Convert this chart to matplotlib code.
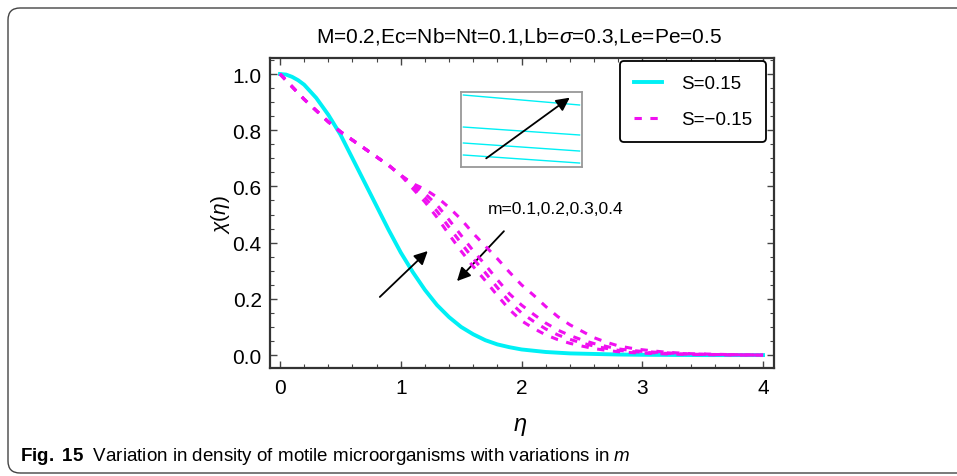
import matplotlib
matplotlib.use("Agg")
import matplotlib.pyplot as plt
import numpy as np
from matplotlib.patches import FancyBboxPatch
from matplotlib.transforms import IdentityTransform
from matplotlib.ticker import MultipleLocator

plt.rcParams["font.family"] = ["Liberation Sans", "DejaVu Sans"]
plt.rcParams["mathtext.fontset"] = "custom"
plt.rcParams["mathtext.rm"] = "Liberation Sans"
plt.rcParams["mathtext.it"] = "Liberation Sans:italic"
plt.rcParams["mathtext.bf"] = "Liberation Sans:bold"

# S = 0.15 (curves for all m overlap)
eta_pos = [0.0, 0.05, 0.1, 0.15, 0.2, 0.3, 0.4, 0.5, 0.6, 0.7, 0.8, 0.9, 1.0,
           1.1, 1.2, 1.3, 1.4, 1.5, 1.6, 1.7, 1.8, 1.9, 2.0, 2.2, 2.4, 2.6,
           2.8, 3.0, 3.5, 4.0]
chi_pos = [1.000, 0.998, 0.990, 0.978, 0.962, 0.915, 0.855, 0.785, 0.700,
           0.615, 0.530, 0.445, 0.365, 0.295, 0.232, 0.178, 0.135, 0.100,
           0.074, 0.053, 0.038, 0.028, 0.020, 0.011, 0.006, 0.004, 0.002,
           0.001, 0.000, 0.000]

# S = -0.15, m = 0.1 .. 0.4
eta_neg = [0.0, 0.1, 0.2, 0.3, 0.4, 0.5, 0.6, 0.7, 0.8, 0.9, 1.0, 1.1, 1.2, 1.3,
           1.4, 1.5, 1.6, 1.7, 1.8, 1.9, 2.0, 2.1, 2.2, 2.3, 2.4, 2.5, 2.6, 2.7,
           2.8, 2.9, 3.0, 3.2, 3.4, 3.6, 3.8, 4.0]
head = [1.000, 0.955, 0.910, 0.870, 0.830, 0.795, 0.765, 0.735, 0.705, 0.675, 0.640]
chi_neg_m1 = head + [0.610, 0.590, 0.562, 0.525, 0.483, 0.433, 0.388, 0.343,
                     0.295, 0.250, 0.213, 0.173, 0.137, 0.108, 0.085, 0.062,
                     0.046, 0.033, 0.025, 0.019, 0.010, 0.005, 0.003, 0.001, 0.000]
chi_neg_m2 = head + [0.608, 0.575, 0.534, 0.481, 0.426, 0.371, 0.321, 0.268,
                     0.218, 0.178, 0.145, 0.114, 0.089, 0.070, 0.054, 0.041,
                     0.031, 0.022, 0.017, 0.013, 0.008, 0.004, 0.002, 0.001, 0.000]
chi_neg_m3 = head + [0.600, 0.560, 0.512, 0.455, 0.398, 0.343, 0.293, 0.240,
                     0.190, 0.150, 0.120, 0.093, 0.072, 0.056, 0.043, 0.032,
                     0.024, 0.017, 0.013, 0.010, 0.006, 0.003, 0.002, 0.001, 0.000]
chi_neg_m4 = head + [0.592, 0.545, 0.490, 0.429, 0.370, 0.315, 0.265, 0.212,
                     0.162, 0.122, 0.095, 0.072, 0.055, 0.042, 0.032, 0.023,
                     0.017, 0.012, 0.009, 0.007, 0.004, 0.002, 0.001, 0.000, 0.000]

# zoomed inset: cyan curves, left / right end heights
inset_left = [0.96, 0.533, 0.32, 0.16]
inset_right = [0.827, 0.427, 0.213, 0.053]

CYAN = "#00F0F5"
MAGENTA = "#F010F0"

fig = plt.figure(figsize=(9.57, 4.77), dpi=100)
ax = fig.add_axes([0.2821, 0.2264, 0.5266, 0.6499])

ax.plot(eta_pos, chi_pos, color=CYAN, lw=2.8, label="S=0.15", zorder=3)
first = True
for ys in [chi_neg_m1, chi_neg_m2, chi_neg_m3, chi_neg_m4]:
    ax.plot(eta_neg, ys, color=MAGENTA, lw=2.2, dashes=(2.4, 2.8),
            label="S=\u22120.15" if first else None, zorder=4)
    first = False

ax.set_xlim(-0.083, 4.09)
ax.set_ylim(-0.046, 1.057)
ax.xaxis.set_major_locator(MultipleLocator(1))
ax.xaxis.set_minor_locator(MultipleLocator(0.2))
ax.yaxis.set_major_locator(MultipleLocator(0.2))
ax.yaxis.set_minor_locator(MultipleLocator(0.05))
ax.yaxis.set_major_formatter(matplotlib.ticker.FormatStrFormatter("%.1f"))
ax.tick_params(which="both", direction="in", top=True, right=True,
               color="#444444", labelsize=15)
ax.tick_params(which="major", length=5, width=1)
ax.tick_params(which="minor", length=3, width=0.8)
ax.tick_params(axis="x", pad=7)
ax.tick_params(axis="y", pad=6)
for sp in ax.spines.values():
    sp.set_linewidth(1.6)
    sp.set_color("#333333")

ax.set_xlabel("$\\eta$", fontsize=17)
ax.xaxis.set_label_coords(0.496, -0.15)
ax.set_ylabel("$\\chi(\\eta)$", fontsize=15)
ax.yaxis.set_label_coords(-0.075, 0.5)

fig.text(0.542, 0.9245, "M=0.2,Ec=Nb=Nt=0.1,Lb=$\\sigma$=0.3,Le=Pe=0.5",
         ha="center", va="center", fontsize=15)

leg = ax.legend(loc="upper right", bbox_to_anchor=(0.8004, 0.87),
                bbox_transform=fig.transFigure, fontsize=13.5, frameon=True,
                fancybox=True, handlelength=1.5, handletextpad=1.0,
                borderpad=0.75, labelspacing=1.0, borderaxespad=0)
leg.get_frame().set_edgecolor("black")
leg.get_frame().set_linewidth(1.3)
leg.get_frame().set_alpha(1)

# arrows and label for m
ax.annotate("", xy=(1.24, 0.377), xytext=(0.81, 0.20),
            arrowprops=dict(arrowstyle="-|>", color="black", lw=1.3,
                            mutation_scale=20))
ax.annotate("", xy=(1.45, 0.256), xytext=(1.87, 0.448),
            arrowprops=dict(arrowstyle="-|>", color="black", lw=1.3,
                            mutation_scale=20))
ax.text(2.28, 0.523, "m=0.1,0.2,0.3,0.4", ha="center", va="center",
        fontsize=12.5)

# inset
ax_in = fig.add_axes([0.4817, 0.6478, 0.1264, 0.1572])
for yl, yr in zip(inset_left, inset_right):
    ax_in.plot([0.02, 0.98], [yl, yr], color=CYAN, lw=1.0)
ax_in.set_xlim(0, 1)
ax_in.set_ylim(0, 1)
ax_in.set_xticks([])
ax_in.set_yticks([])
for sp in ax_in.spines.values():
    sp.set_color("#999999")
    sp.set_linewidth(1.3)
ax_in.annotate("", xy=(0.5977, 0.7966), xycoords="figure fraction",
               xytext=(0.5057, 0.6625), textcoords="figure fraction",
               arrowprops=dict(arrowstyle="-|>", color="black", lw=1.3,
                               mutation_scale=20))

# caption and outer rounded frame
fig.text(0.021, 0.042,
         "$\\mathbf{Fig.\\ 15}$  Variation in density of motile microorganisms "
         "with variations in $m$", fontsize=13.5, va="center", ha="left")
frame = FancyBboxPatch((8, 3), 1000, 465, boxstyle="round,pad=0,rounding_size=12",
                       transform=IdentityTransform(), facecolor="none",
                       edgecolor="#444444", lw=1.0)
fig.add_artist(frame)

fig.savefig("out.png", dpi=100)
